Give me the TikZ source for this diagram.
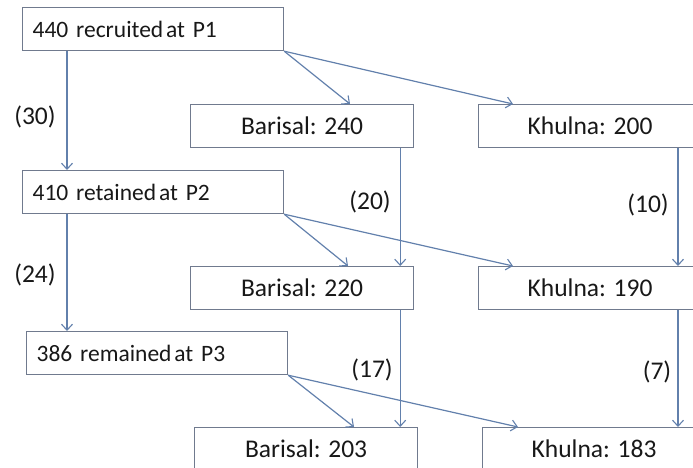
\documentclass[tikz,border=0pt]{standalone}
\usepackage{fontspec}
\setmainfont{Carlito}
\usetikzlibrary{arrows.meta}
\definecolor{boxgray}{RGB}{112,122,142}
\definecolor{flowblue}{RGB}{98,128,172}
\definecolor{inkgray}{RGB}{24,24,24}
\begin{document}
\begin{tikzpicture}[x=1pt,y=-1pt,
    every node/.style={text=inkgray,font=\fontsize{25.5}{30}\selectfont},
    stagebox/.style={draw=boxgray,line width=1.2pt,anchor=north west,
        font=\fontsize{23.5}{28}\selectfont,
        text width=241pt,inner xsep=10pt,align=left,minimum height=43pt},
    sitebox/.style={draw=boxgray,line width=1.2pt,anchor=north west,
        minimum width=223pt,minimum height=43pt},
    flow/.style={draw=flowblue,line width=1.2pt,
        -{Straight Barb[length=6pt,width=11pt,line width=1.1pt]}}]
    \useasboundingbox (0,0) rectangle (693,468);
    \clip (0,0) rectangle (693,468);
    % stages
    \node[stagebox] (p1) at (22,7) {440 recruited\hspace{0.12em}at P1};
    \node[stagebox] (p2) at (22,170) {410 retained\hspace{0.12em}at P2};
    \node[stagebox] (p3) at (26,331) {386 remained\hspace{0.12em}at P3};
    % sites
    \node[sitebox] (bar1) at (190,104) {Barisal: 240};
    \node[sitebox] (khu1) at (478,104) {Khulna: 200};
    \node[sitebox] (bar2) at (190,266) {Barisal: 220};
    \node[sitebox] (khu2) at (478,266) {Khulna: 190};
    \node[sitebox] (bar3) at (194,427) {Barisal: 203};
    \node[sitebox] (khu3) at (482,427) {Khulna: 183};
    % losses
    \node (l30) at (35,117) {(30)};
    \node (l24) at (35,275) {(24)};
    \node (l20) at (370,202) {(20)};
    \node (l17) at (372,370) {(17)};
    \node (l10) at (648,205) {(10)};
    \node (l7) at (657,372) {(7)};
    % flows down the left
    \draw[flow] ([xshift=45pt]p1.south west) -- ([xshift=45pt]p1.south west |- p2.north);
    \draw[flow] ([xshift=45pt]p2.south west) -- ([xshift=45pt]p2.south west |- p3.north);
    % split to sites
    \draw[flow] (p1.south east) -- ([xshift=160pt]bar1.north west);
    \draw[flow] (p1.south east) -- ([xshift=35pt]khu1.north west);
    \draw[flow] (p2.south east) -- ([xshift=158pt]bar2.north west);
    \draw[flow] (p2.south east) -- ([xshift=35pt]khu2.north west);
    \draw[flow] (p3.south east) -- ([xshift=160pt]bar3.north west);
    \draw[flow] (p3.south east) -- ([xshift=36pt]khu3.north west);
    % flows down the sites
    \draw[flow] ([xshift=-14pt]bar1.south east) -- ([xshift=-14pt]bar1.south east |- bar2.north);
    \draw[flow] ([xshift=-14pt]bar2.south east) -- ([xshift=-14pt]bar2.south east |- bar3.north);
    \draw[flow] ([xshift=200pt]khu1.south west) -- ([xshift=200pt]khu1.south west |- khu2.north);
    \draw[flow] ([xshift=200pt]khu2.south west) -- ([xshift=200pt]khu2.south west |- khu3.north);
\end{tikzpicture}
\end{document}
